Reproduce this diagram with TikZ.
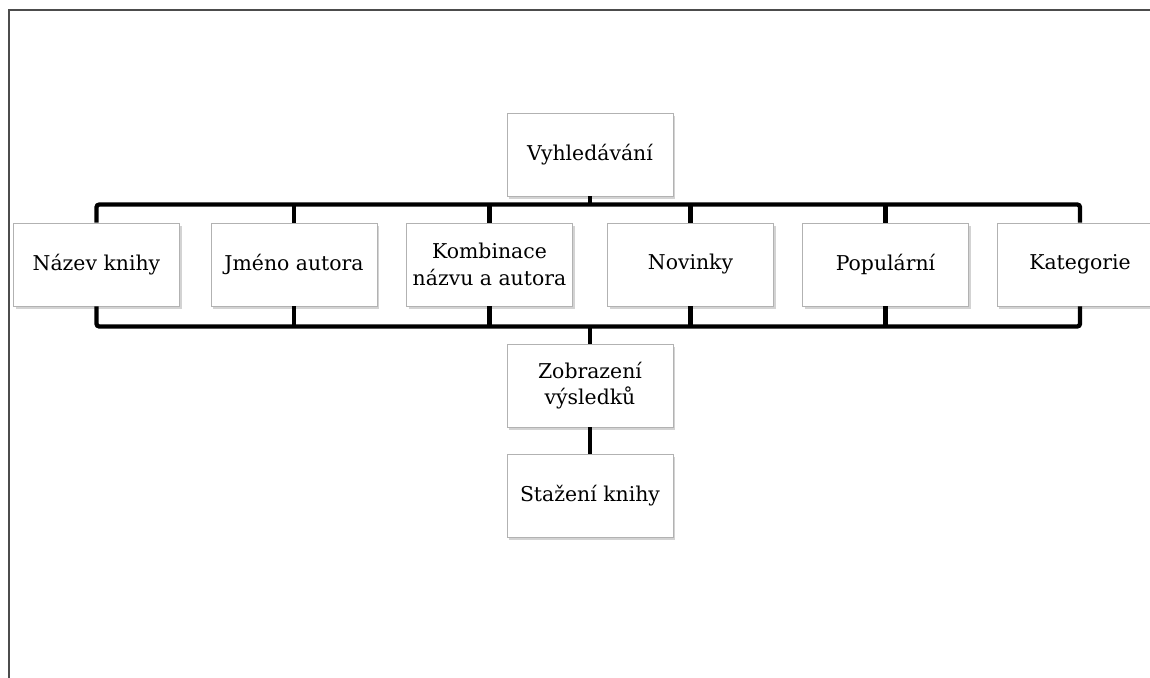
\documentclass[tikz,border=0pt]{standalone}
\usepackage{fontspec}
\setmainfont{DejaVu Serif}
\usetikzlibrary{shadows}

\begin{document}
\begin{tikzpicture}[x=0.75pt,y=-0.75pt,every text node part/.style={align=center},
  box/.style={draw=gray!60,line width=0.7pt,fill=white,
    minimum width=124.5pt,minimum height=62.25pt,inner sep=2pt,
    font=\fontsize{15.3}{20}\selectfont,text=black,
    drop shadow={opacity=0.35,shadow xshift=1.5pt,shadow yshift=-2pt}},
  bus/.style={line width=3.2pt,black,rounded corners=2pt},
  frame/.style={line width=2.2pt,black!70}]

  \clip (0,0) rectangle (1150,678);
  \draw[frame] (9,678) -- (9,10) -- (1150,10);

  % Search tree
  \node[box] (vyhl) at (590,154.5) {Vyhledávání};
  \node[box] (nazev) at (96.5,264.5) {Název knihy};
  \node[box] (jmeno) at (294,264.5) {Jméno autora};
  \node[box] (komb) at (489.5,264.5) {Kombinace\\názvu a autora};
  \node[box] (novinky) at (690.5,264.5) {Novinky};
  \node[box] (popul) at (885.5,264.5) {Populární};
  \node[box] (kateg) at (1080,264.5) {Kategorie};
  \node[box] (zobraz) at (590,385.5) {Zobrazení\\výsledků};
  \node[box] (stazeni) at (590,496) {Stažení knihy};

  \draw[bus] (vyhl.south) -- ++(0,9);
  \draw[bus] (nazev.north) -- ++(0,-18) -| (kateg.north);
  \draw[bus] (nazev.south) -- ++(0,20) -| (kateg.south);
  \foreach \n in {jmeno,komb,novinky,popul} {
    \draw[bus] (\n.north) -- ++(0,-18);
    \draw[bus] (\n.south) -- ++(0,20);
  }
  \draw[bus] (zobraz.north) -- ++(0,-18);
  \draw[bus] (zobraz) -- (stazeni);

\end{tikzpicture}
\end{document}
